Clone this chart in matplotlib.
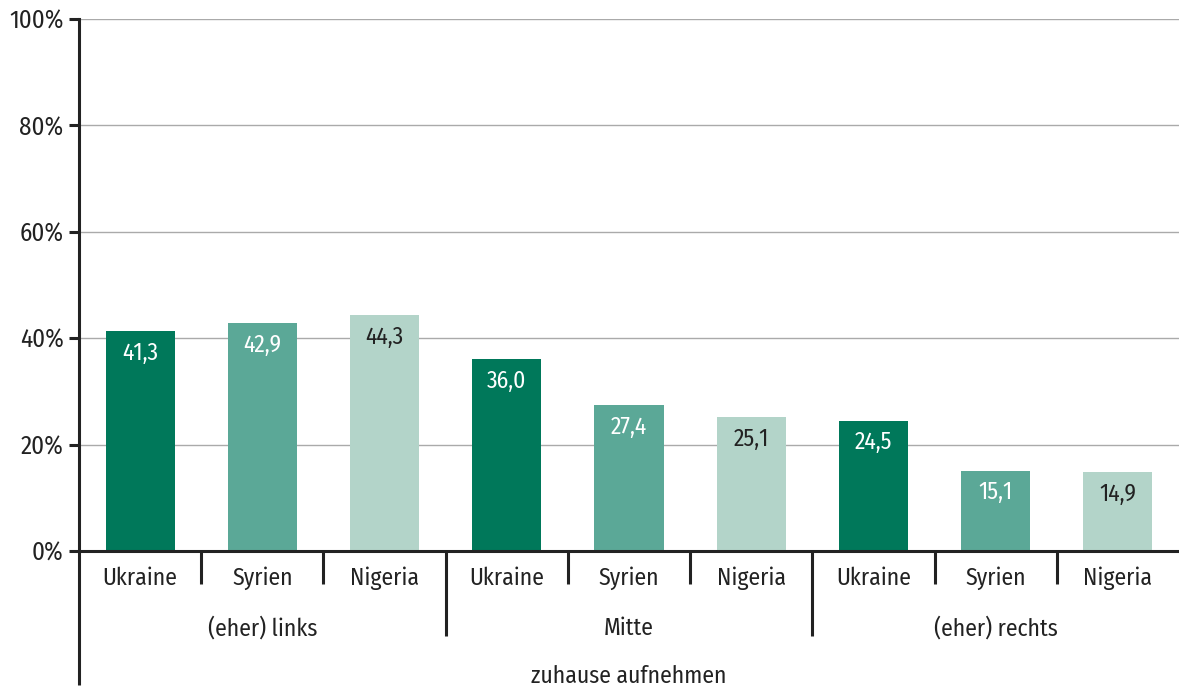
import matplotlib
matplotlib.use("Agg")
import matplotlib.pyplot as plt

plt.rcParams['font.family'] = ['Fira Sans Condensed', 'DejaVu Sans']

countries = ["Ukraine", "Syrien", "Nigeria"]
groups = ["(eher) links", "Mitte", "(eher) rechts"]
values = [
    [41.3, 42.9, 44.3],   # (eher) links
    [36.0, 27.4, 25.1],   # Mitte
    [24.5, 15.1, 14.9],   # (eher) rechts
]
outer_label = "zuhause aufnehmen"
yticks = [0, 20, 40, 60, 80, 100]

colors = ["#00785a", "#5ba897", "#b3d4c9"]
label_colors = ["white", "white", "#222222"]
text_color = "#222222"
fs = 17

W, H = 1179, 689
fig = plt.figure(figsize=(W / 100, H / 100), dpi=100)
ax = fig.add_axes([79 / W, (H - 551) / H, (W - 79) / W, (551 - 19) / H])

n = len(countries)
px = (551 - 19) / 100.0  # pixels per percentage point
for gi, (grp_name, grp_vals) in enumerate(zip(groups, values)):
    for ci, v in enumerate(grp_vals):
        x = gi * n + ci
        ax.bar(x, v, width=0.565, color=colors[ci], zorder=2)
        ax.text(x, v - 22 / px, f"{v:.1f}".replace(".", ","),
                ha="center", va="center", fontsize=fs,
                color=label_colors[ci], zorder=3)
        ax.text(x, -27 / px, countries[ci], ha="center", va="center",
                fontsize=fs, color=text_color)
    ax.text(gi * n + (n - 1) / 2, -77 / px, grp_name, ha="center",
            va="center", fontsize=fs, color=text_color)

total = n * len(values)
ax.text((total - 1) / 2, -125 / px, outer_label, ha="center",
        va="center", fontsize=fs, color=text_color)

ax.set_xlim(-0.5, total - 0.5)
ax.set_ylim(0, 100)

# category separators below the baseline
for k in range(1, total):
    bottom = -85 / px if k % n == 0 else -33 / px
    ax.plot([k - 0.5, k - 0.5], [0, bottom], color=text_color, lw=2.2,
            clip_on=False, solid_capstyle="butt")
# left axis line extended down past the group labels
ax.plot([-0.5, -0.5], [0, -134 / px], color=text_color, lw=2.2,
        clip_on=False, solid_capstyle="butt")

ax.set_yticks(yticks)
ax.set_yticklabels([f"{t}%" for t in yticks], fontsize=18, color=text_color)
ax.tick_params(axis="y", length=7, width=2.2, color=text_color, pad=4)
ax.tick_params(axis="x", length=0, labelbottom=False)
ax.yaxis.grid(True, color="#aaaaaa", lw=1, zorder=0)
ax.set_axisbelow(True)

for s in ["top", "right"]:
    ax.spines[s].set_visible(False)
ax.spines["left"].set_linewidth(2.2)
ax.spines["left"].set_color(text_color)
ax.spines["bottom"].set_linewidth(2.2)
ax.spines["bottom"].set_color(text_color)
ax.spines["bottom"].set_zorder(4)

fig.savefig("out.png", dpi=100)
